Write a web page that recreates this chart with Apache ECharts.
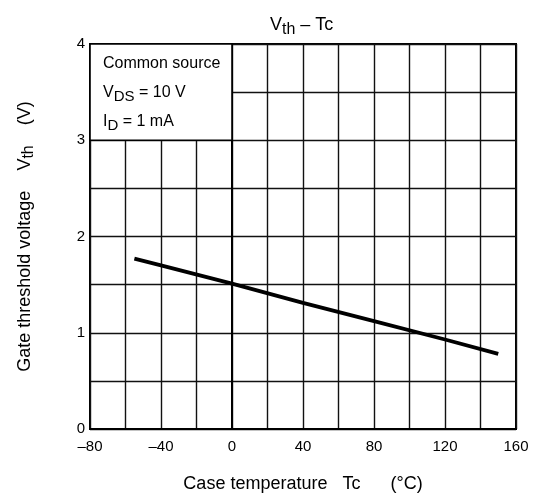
<!DOCTYPE html>
<html>
<head>
<meta charset="utf-8">
<script src="https://cdn.jsdelivr.net/npm/echarts@6/dist/echarts.min.js"></script>
<style>
  html, body { margin: 0; padding: 0; background: #fff; }
  #chart { width: 536px; height: 499px; }
</style>
</head>
<body>
<div id="chart"></div>
<script>
// data
const tempC = [-55, -40, 0, 40, 80, 120, 150]
const vth = [1.77, 1.70, 1.51, 1.31, 1.12, 0.93, 0.78]
const xTicks = [-80, -40, 0, 40, 80, 120, 160]
const yTicks = [0, 1, 2, 3, 4]
const noteBox = [[-80, 4], [0, 3]]

const font = '"Liberation Sans", Arial, sans-serif'
const chart = echarts.init(document.getElementById('chart'))

chart.setOption({
  animation: false,
  backgroundColor: '#fff',
  textStyle: { fontFamily: font, color: '#000' },
  title: {
    text: 'V{s|th} – Tc',
    left: 265,
    top: 8,
    textStyle: {
      fontFamily: font,
      fontSize: 18,
      fontWeight: 'normal',
      color: '#000',
      rich: {
        s: { fontFamily: font, fontSize: 16, padding: [9, 0, 0, 0], color: '#000' }
      }
    }
  },
  grid: {
    left: 90, right: 20, top: 44, bottom: 70,
    show: true, borderColor: '#000', borderWidth: 2
  },
  xAxis: {
    type: 'value',
    min: -80, max: 160, interval: 20,
    name: 'Case temperature   Tc      (°C)',
    nameLocation: 'middle',
    nameGap: 46,
    nameTextStyle: { fontFamily: font, fontSize: 18, color: '#000' },
    axisLine: { show: true, onZero: false, lineStyle: { color: '#000', width: 2 } },
    axisTick: { show: false },
    axisLabel: {
      fontFamily: font, fontSize: 15, color: '#000', margin: 10,
      formatter: v => xTicks.includes(v) ? String(v).replace('-', '–') : ''
    },
    splitLine: { show: true, lineStyle: { color: '#111', width: 1.4 } }
  },
  yAxis: {
    type: 'value',
    min: 0, max: 4, interval: 0.5,
    name: 'Gate threshold voltage    V{s|th}    (V)',
    nameLocation: 'middle',
    nameGap: 53,
    nameRotate: 90,
    nameTextStyle: {
      fontFamily: font, fontSize: 18, color: '#000',
      rich: { s: { fontFamily: font, fontSize: 16, padding: [8, 0, 0, 0], color: '#000' } }
    },
    axisLine: { show: true, lineStyle: { color: '#000', width: 2 } },
    axisTick: { show: false },
    axisLabel: {
      fontFamily: font, fontSize: 15, color: '#000', margin: 5,
      formatter: v => yTicks.includes(v) ? String(v) : ''
    },
    splitLine: { show: true, lineStyle: { color: '#111', width: 1.4 } }
  },
  series: [{
    type: 'line',
    data: tempC.map((t, i) => [t, vth[i]]),
    showSymbol: false,
    lineStyle: { color: '#000', width: 3.8 },
    markArea: {
      silent: true,
      itemStyle: { color: '#fff', borderColor: '#000', borderWidth: 1.6 },
      data: [[{ coord: noteBox[0] }, { coord: noteBox[1] }]]
    }
  }],
  graphic: [
    {
      type: 'text', left: 103, top: 56, z: 100,
      style: { text: 'Common source', font: '16px ' + font, fill: '#000' }
    },
    {
      type: 'text', left: 103, top: 85, z: 100,
      style: {
        text: 'V{s|DS} = 10 V', font: '16px ' + font, fill: '#000',
        rich: { s: { font: '15px ' + font, fill: '#000', padding: [7, 0, 0, 0] } }
      }
    },
    {
      type: 'text', left: 103, top: 114, z: 100,
      style: {
        text: 'I{s|D} = 1 mA', font: '16px ' + font, fill: '#000',
        rich: { s: { font: '15px ' + font, fill: '#000', padding: [7, 0, 0, 0] } }
      }
    }
  ]
})

window.onresize = function () {
  chart.resize()
}
</script>
</body>
</html>
